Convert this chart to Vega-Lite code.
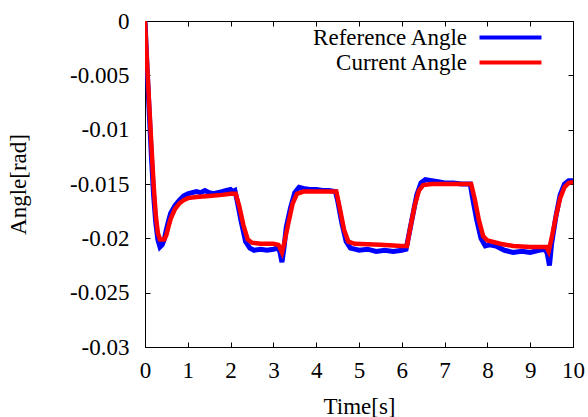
{
  "$schema": "https://vega.github.io/schema/vega-lite/v6.json",
  "width": 428,
  "height": 326,
  "autosize": {"type": "none"},
  "padding": {"left": 145, "top": 21, "right": 15, "bottom": 70},
  "background": "white",
  "datasets": {
    "angles": [
      {"t": 0, "angle": 0, "series": "Reference Angle"},
      {"t": 0.05, "angle": -0.0045, "series": "Reference Angle"},
      {"t": 0.1, "angle": -0.0085, "series": "Reference Angle"},
      {"t": 0.15, "angle": -0.0125, "series": "Reference Angle"},
      {"t": 0.2, "angle": -0.016, "series": "Reference Angle"},
      {"t": 0.25, "angle": -0.0185, "series": "Reference Angle"},
      {"t": 0.3, "angle": -0.0201, "series": "Reference Angle"},
      {"t": 0.35, "angle": -0.0208, "series": "Reference Angle"},
      {"t": 0.4, "angle": -0.0206, "series": "Reference Angle"},
      {"t": 0.45, "angle": -0.0201, "series": "Reference Angle"},
      {"t": 0.5, "angle": -0.0192, "series": "Reference Angle"},
      {"t": 0.55, "angle": -0.0184, "series": "Reference Angle"},
      {"t": 0.6, "angle": -0.0177, "series": "Reference Angle"},
      {"t": 0.7, "angle": -0.017, "series": "Reference Angle"},
      {"t": 0.8, "angle": -0.0165, "series": "Reference Angle"},
      {"t": 0.9, "angle": -0.0161, "series": "Reference Angle"},
      {"t": 1.0, "angle": -0.0159, "series": "Reference Angle"},
      {"t": 1.1, "angle": -0.0158, "series": "Reference Angle"},
      {"t": 1.2, "angle": -0.0157, "series": "Reference Angle"},
      {"t": 1.3, "angle": -0.0158, "series": "Reference Angle"},
      {"t": 1.4, "angle": -0.0156, "series": "Reference Angle"},
      {"t": 1.5, "angle": -0.0158, "series": "Reference Angle"},
      {"t": 1.6, "angle": -0.0159, "series": "Reference Angle"},
      {"t": 1.7, "angle": -0.0158, "series": "Reference Angle"},
      {"t": 1.8, "angle": -0.0157, "series": "Reference Angle"},
      {"t": 1.9, "angle": -0.0156, "series": "Reference Angle"},
      {"t": 2.0, "angle": -0.0155, "series": "Reference Angle"},
      {"t": 2.05, "angle": -0.0157, "series": "Reference Angle"},
      {"t": 2.1, "angle": -0.0156, "series": "Reference Angle"},
      {"t": 2.15, "angle": -0.0165, "series": "Reference Angle"},
      {"t": 2.25, "angle": -0.0185, "series": "Reference Angle"},
      {"t": 2.35, "angle": -0.0203, "series": "Reference Angle"},
      {"t": 2.45, "angle": -0.0209, "series": "Reference Angle"},
      {"t": 2.55, "angle": -0.0211, "series": "Reference Angle"},
      {"t": 2.7, "angle": -0.021, "series": "Reference Angle"},
      {"t": 2.85, "angle": -0.0211, "series": "Reference Angle"},
      {"t": 3.0, "angle": -0.021, "series": "Reference Angle"},
      {"t": 3.1, "angle": -0.0209, "series": "Reference Angle"},
      {"t": 3.15, "angle": -0.0212, "series": "Reference Angle"},
      {"t": 3.2, "angle": -0.0222, "series": "Reference Angle"},
      {"t": 3.25, "angle": -0.0208, "series": "Reference Angle"},
      {"t": 3.3, "angle": -0.019, "series": "Reference Angle"},
      {"t": 3.4, "angle": -0.0172, "series": "Reference Angle"},
      {"t": 3.5, "angle": -0.0158, "series": "Reference Angle"},
      {"t": 3.6, "angle": -0.0153, "series": "Reference Angle"},
      {"t": 3.7, "angle": -0.0154, "series": "Reference Angle"},
      {"t": 3.85, "angle": -0.0155, "series": "Reference Angle"},
      {"t": 4.0, "angle": -0.0155, "series": "Reference Angle"},
      {"t": 4.15, "angle": -0.0156, "series": "Reference Angle"},
      {"t": 4.3, "angle": -0.0156, "series": "Reference Angle"},
      {"t": 4.45, "angle": -0.0157, "series": "Reference Angle"},
      {"t": 4.5, "angle": -0.0165, "series": "Reference Angle"},
      {"t": 4.6, "angle": -0.0186, "series": "Reference Angle"},
      {"t": 4.7, "angle": -0.0203, "series": "Reference Angle"},
      {"t": 4.8, "angle": -0.0209, "series": "Reference Angle"},
      {"t": 4.9, "angle": -0.021, "series": "Reference Angle"},
      {"t": 5.0, "angle": -0.0211, "series": "Reference Angle"},
      {"t": 5.2, "angle": -0.021, "series": "Reference Angle"},
      {"t": 5.4, "angle": -0.0212, "series": "Reference Angle"},
      {"t": 5.6, "angle": -0.0211, "series": "Reference Angle"},
      {"t": 5.8, "angle": -0.0212, "series": "Reference Angle"},
      {"t": 6.0, "angle": -0.0211, "series": "Reference Angle"},
      {"t": 6.1, "angle": -0.021, "series": "Reference Angle"},
      {"t": 6.15, "angle": -0.02, "series": "Reference Angle"},
      {"t": 6.25, "angle": -0.018, "series": "Reference Angle"},
      {"t": 6.35, "angle": -0.016, "series": "Reference Angle"},
      {"t": 6.45, "angle": -0.0149, "series": "Reference Angle"},
      {"t": 6.55, "angle": -0.0146, "series": "Reference Angle"},
      {"t": 6.7, "angle": -0.0147, "series": "Reference Angle"},
      {"t": 6.85, "angle": -0.0148, "series": "Reference Angle"},
      {"t": 7.0, "angle": -0.0149, "series": "Reference Angle"},
      {"t": 7.2, "angle": -0.0149, "series": "Reference Angle"},
      {"t": 7.4, "angle": -0.015, "series": "Reference Angle"},
      {"t": 7.6, "angle": -0.015, "series": "Reference Angle"},
      {"t": 7.65, "angle": -0.0162, "series": "Reference Angle"},
      {"t": 7.75, "angle": -0.0183, "series": "Reference Angle"},
      {"t": 7.85, "angle": -0.02, "series": "Reference Angle"},
      {"t": 7.95, "angle": -0.0207, "series": "Reference Angle"},
      {"t": 8.05, "angle": -0.0206, "series": "Reference Angle"},
      {"t": 8.2, "angle": -0.0207, "series": "Reference Angle"},
      {"t": 8.4, "angle": -0.0211, "series": "Reference Angle"},
      {"t": 8.6, "angle": -0.0213, "series": "Reference Angle"},
      {"t": 8.8, "angle": -0.0212, "series": "Reference Angle"},
      {"t": 9.0, "angle": -0.0213, "series": "Reference Angle"},
      {"t": 9.2, "angle": -0.0211, "series": "Reference Angle"},
      {"t": 9.35, "angle": -0.021, "series": "Reference Angle"},
      {"t": 9.4, "angle": -0.0214, "series": "Reference Angle"},
      {"t": 9.45, "angle": -0.0225, "series": "Reference Angle"},
      {"t": 9.5, "angle": -0.0205, "series": "Reference Angle"},
      {"t": 9.6, "angle": -0.018, "series": "Reference Angle"},
      {"t": 9.7, "angle": -0.016, "series": "Reference Angle"},
      {"t": 9.8, "angle": -0.015, "series": "Reference Angle"},
      {"t": 9.9, "angle": -0.0147, "series": "Reference Angle"},
      {"t": 10.0, "angle": -0.0147, "series": "Reference Angle"},

      {"t": 0, "angle": 0, "series": "Current Angle"},
      {"t": 0.05, "angle": -0.004, "series": "Current Angle"},
      {"t": 0.1, "angle": -0.0078, "series": "Current Angle"},
      {"t": 0.15, "angle": -0.0115, "series": "Current Angle"},
      {"t": 0.2, "angle": -0.015, "series": "Current Angle"},
      {"t": 0.25, "angle": -0.0178, "series": "Current Angle"},
      {"t": 0.3, "angle": -0.0195, "series": "Current Angle"},
      {"t": 0.35, "angle": -0.0201, "series": "Current Angle"},
      {"t": 0.45, "angle": -0.0201, "series": "Current Angle"},
      {"t": 0.5, "angle": -0.0197, "series": "Current Angle"},
      {"t": 0.55, "angle": -0.0189, "series": "Current Angle"},
      {"t": 0.6, "angle": -0.0182, "series": "Current Angle"},
      {"t": 0.7, "angle": -0.0173, "series": "Current Angle"},
      {"t": 0.8, "angle": -0.0168, "series": "Current Angle"},
      {"t": 0.9, "angle": -0.0165, "series": "Current Angle"},
      {"t": 1.0, "angle": -0.0163, "series": "Current Angle"},
      {"t": 1.2, "angle": -0.0162, "series": "Current Angle"},
      {"t": 1.5, "angle": -0.0161, "series": "Current Angle"},
      {"t": 1.8, "angle": -0.016, "series": "Current Angle"},
      {"t": 2.0, "angle": -0.0159, "series": "Current Angle"},
      {"t": 2.12, "angle": -0.0159, "series": "Current Angle"},
      {"t": 2.2, "angle": -0.017, "series": "Current Angle"},
      {"t": 2.3, "angle": -0.0188, "series": "Current Angle"},
      {"t": 2.4, "angle": -0.0201, "series": "Current Angle"},
      {"t": 2.5, "angle": -0.0204, "series": "Current Angle"},
      {"t": 2.7, "angle": -0.0205, "series": "Current Angle"},
      {"t": 3.0, "angle": -0.0205, "series": "Current Angle"},
      {"t": 3.12, "angle": -0.0206, "series": "Current Angle"},
      {"t": 3.2, "angle": -0.0213, "series": "Current Angle"},
      {"t": 3.25, "angle": -0.0205, "series": "Current Angle"},
      {"t": 3.35, "angle": -0.0186, "series": "Current Angle"},
      {"t": 3.45, "angle": -0.0168, "series": "Current Angle"},
      {"t": 3.55, "angle": -0.0159, "series": "Current Angle"},
      {"t": 3.7, "angle": -0.0157, "series": "Current Angle"},
      {"t": 4.0, "angle": -0.0157, "series": "Current Angle"},
      {"t": 4.3, "angle": -0.0157, "series": "Current Angle"},
      {"t": 4.47, "angle": -0.0157, "series": "Current Angle"},
      {"t": 4.55, "angle": -0.0172, "series": "Current Angle"},
      {"t": 4.65, "angle": -0.0192, "series": "Current Angle"},
      {"t": 4.75, "angle": -0.0203, "series": "Current Angle"},
      {"t": 4.9, "angle": -0.0205, "series": "Current Angle"},
      {"t": 5.5, "angle": -0.0206, "series": "Current Angle"},
      {"t": 6.0, "angle": -0.0207, "series": "Current Angle"},
      {"t": 6.12, "angle": -0.0207, "series": "Current Angle"},
      {"t": 6.2, "angle": -0.019, "series": "Current Angle"},
      {"t": 6.3, "angle": -0.017, "series": "Current Angle"},
      {"t": 6.4, "angle": -0.0156, "series": "Current Angle"},
      {"t": 6.5, "angle": -0.0151, "series": "Current Angle"},
      {"t": 6.7, "angle": -0.015, "series": "Current Angle"},
      {"t": 7.0, "angle": -0.015, "series": "Current Angle"},
      {"t": 7.3, "angle": -0.015, "series": "Current Angle"},
      {"t": 7.62, "angle": -0.015, "series": "Current Angle"},
      {"t": 7.7, "angle": -0.0163, "series": "Current Angle"},
      {"t": 7.8, "angle": -0.0183, "series": "Current Angle"},
      {"t": 7.9, "angle": -0.0198, "series": "Current Angle"},
      {"t": 8.0, "angle": -0.0202, "series": "Current Angle"},
      {"t": 8.3, "angle": -0.0205, "series": "Current Angle"},
      {"t": 8.6, "angle": -0.0207, "series": "Current Angle"},
      {"t": 9.0, "angle": -0.0208, "series": "Current Angle"},
      {"t": 9.38, "angle": -0.0208, "series": "Current Angle"},
      {"t": 9.43, "angle": -0.0212, "series": "Current Angle"},
      {"t": 9.5, "angle": -0.02, "series": "Current Angle"},
      {"t": 9.6, "angle": -0.018, "series": "Current Angle"},
      {"t": 9.7, "angle": -0.0163, "series": "Current Angle"},
      {"t": 9.8, "angle": -0.0153, "series": "Current Angle"},
      {"t": 9.9, "angle": -0.0149, "series": "Current Angle"},
      {"t": 10.0, "angle": -0.0148, "series": "Current Angle"}
    ]
  },
  "data": {"name": "angles"},
  "layer": [
    {
      "transform": [{"filter": "datum.series === 'Reference Angle'"}],
      "mark": {"type": "line", "strokeWidth": 5, "clip": true},
      "encoding": {
        "x": {
          "field": "t", "type": "quantitative",
          "scale": {"domain": [0, 10], "nice": false, "zero": false},
          "axis": {"orient": "bottom", "title": "Time[s]", "values": [0,1,2,3,4,5,6,7,8,9,10],
                   "labelPadding": 17, "titleBaseline": "alphabetic", "titleY": 66}
        },
        "y": {
          "field": "angle", "type": "quantitative",
          "scale": {"domain": [-0.03, 0], "nice": false, "zero": false},
          "axis": {"orient": "left", "title": "Angle[rad]", "values": [0, -0.005, -0.01, -0.015, -0.02, -0.025, -0.03],
                   "labelExpr": "datum.value == 0 ? '0' : '-' + format(-datum.value, '')",
                   "labelPadding": 21, "titleAngle": -90, "titleBaseline": "alphabetic", "titleAlign": "center",
                   "titleX": -120, "titleY": 163}
        },
        "color": {
          "field": "series", "type": "nominal",
          "scale": {"domain": ["Reference Angle", "Current Angle"], "range": ["#0000ff", "#ff0000"]},
          "legend": {"title": null}
        }
      }
    },
    {
      "transform": [{"filter": "datum.series === 'Current Angle'"}],
      "mark": {"type": "line", "strokeWidth": 4.5, "clip": true},
      "encoding": {
        "x": {
          "field": "t", "type": "quantitative",
          "axis": {"orient": "top", "title": null, "labels": false, "values": [0,1,2,3,4,5,6,7,8,9,10]}
        },
        "y": {
          "field": "angle", "type": "quantitative",
          "axis": {"orient": "right", "title": null, "labels": false, "values": [0, -0.005, -0.01, -0.015, -0.02, -0.025, -0.03]}
        },
        "color": {"field": "series", "type": "nominal"}
      }
    }
  ],
  "resolve": {"axis": {"x": "independent", "y": "independent"}},
  "config": {
    "font": "Liberation Serif, Times New Roman, Times, serif",
    "view": {"stroke": "black", "strokeWidth": 1},
    "axis": {
      "grid": false,
      "domain": false,
      "tickColor": "black",
      "tickSize": -5,
      "tickWidth": 1,
      "labelFont": "Liberation Serif, Times New Roman, Times, serif",
      "labelFontSize": 23,
      "labelColor": "black",
      "titleFont": "Liberation Serif, Times New Roman, Times, serif",
      "titleFontSize": 23,
      "titleFontWeight": "normal",
      "titleColor": "black",
      "labelFlush": false,
      "labelOverlap": false
    },
    "legend": {
      "orient": "none",
      "legendX": 354,
      "legendY": 5,
      "padding": 0,
      "symbolType": "M-4,0H4",
      "symbolSize": 240,
      "symbolStrokeWidth": 4,
      "rowPadding": 1,
      "labelAlign": "right",
      "labelOffset": -55,
      "labelFont": "Liberation Serif, Times New Roman, Times, serif",
      "labelFontSize": 23,
      "labelColor": "black",
      "labelLimit": 300
    }
  }
}
